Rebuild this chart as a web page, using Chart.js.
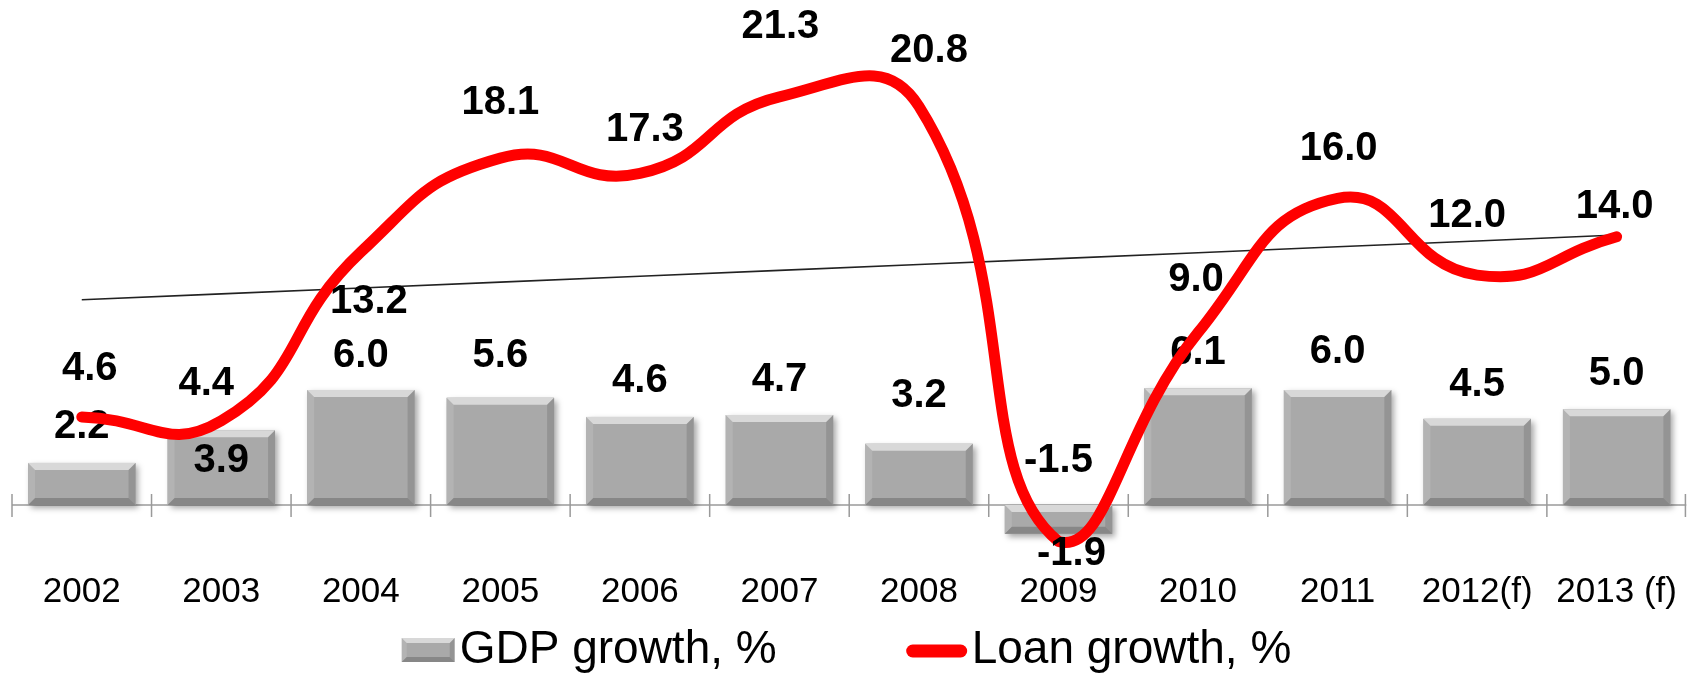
<!DOCTYPE html>
<html lang="en">
<head>
<meta charset="UTF-8">
<title>GDP growth vs loan growth</title>
<script src="https://cdn.jsdelivr.net/npm/chart.js"></script>
<style>
    html, body {
        margin: 0;
        padding: 0;
        background: #fff;
        overflow: hidden;
    }
</style>
</head>
<body>
<canvas id="growth-chart" width="1693" height="673"></canvas>
<script>
    const years = ['2002', '2003', '2004', '2005', '2006', '2007', '2008', '2009', '2010', '2011', '2012(f)', '2013 (f)'];
    const gdpGrowth = [2.2, 3.9, 6.0, 5.6, 4.6, 4.7, 3.2, -1.5, 6.1, 6.0, 4.5, 5.0];
    const loanGrowth = [4.6, 4.4, 13.2, 18.1, 17.3, 21.3, 20.8, -1.9, 9.0, 16.0, 12.0, 14.0];
    const seriesNames = ['GDP growth, %', 'Loan growth, %'];

    // label nudges (px): gdp labels from the bar end, loan labels from the point
    const gdpLabelDy = [-36, 31, -34, -42, -36, -35, -48, -44, -35, -38, -34, -35];
    const loanLabelShift = [[8, -48], [-15, -37], [8, 50], [0, -55], [5, -44], [1, -70],
                            [10, -55], [13, 12], [-2, -53], [1, -49], [-10, -59], [-2, -30]];

    const FONT = "'Liberation Sans', Arial, sans-serif";
    const BAR_GRAY = '#a9a9a9';

    // least squares trend of the loan series
    function linearTrend(values) {
        const n = values.length;
        const mx = (n - 1) / 2;
        const my = values.reduce((a, b) => a + b, 0) / n;
        let sxy = 0, sxx = 0;
        values.forEach((v, i) => { sxy += (i - mx) * (v - my); sxx += (i - mx) * (i - mx); });
        const slope = sxy / sxx;
        return values.map((v, i) => my + slope * (i - mx));
    }

    function bevel(ctx, l, t, r, b, e) {
        ctx.fillStyle = 'rgba(255,255,255,0.55)';
        ctx.beginPath();
        ctx.moveTo(l, t); ctx.lineTo(r, t); ctx.lineTo(r - e, t + e); ctx.lineTo(l + e, t + e);
        ctx.closePath(); ctx.fill();
        ctx.fillStyle = 'rgba(255,255,255,0.12)';
        ctx.beginPath();
        ctx.moveTo(l, t); ctx.lineTo(l + e, t + e); ctx.lineTo(l + e, b - e); ctx.lineTo(l, b);
        ctx.closePath(); ctx.fill();
        ctx.fillStyle = 'rgba(0,0,0,0.12)';
        ctx.beginPath();
        ctx.moveTo(r, t); ctx.lineTo(r, b); ctx.lineTo(r - e, b - e); ctx.lineTo(r - e, t + e);
        ctx.closePath(); ctx.fill();
        ctx.fillStyle = 'rgba(0,0,0,0.2)';
        ctx.beginPath();
        ctx.moveTo(l, b); ctx.lineTo(l + e, b - e); ctx.lineTo(r - e, b - e); ctx.lineTo(r, b);
        ctx.closePath(); ctx.fill();
    }

    // zero line with tick marks between the categories
    const zeroAxis = {
        id: 'zeroAxis',
        beforeDatasetsDraw(chart) {
            const { ctx, chartArea, scales } = chart;
            const y0 = scales.y.getPixelForValue(0);
            ctx.save();
            ctx.strokeStyle = '#9a9a9a';
            ctx.lineWidth = 1.5;
            ctx.beginPath();
            ctx.moveTo(chartArea.left, y0);
            ctx.lineTo(chartArea.right, y0);
            for (let i = 0; i <= years.length; i++) {
                let x;
                if (i === 0) x = chartArea.left;
                else if (i === years.length) x = chartArea.right - 1;
                else x = (scales.x.getPixelForValue(i - 1) + scales.x.getPixelForValue(i)) / 2;
                ctx.moveTo(x, y0 - 11);
                ctx.lineTo(x, y0 + 12);
            }
            ctx.stroke();
            ctx.restore();
        }
    };

    // shadow under the bars, bevel on top of them, then the gdp labels
    const barLook = {
        id: 'barLook',
        beforeDatasetDraw(chart, args) {
            if (args.index !== 0) return;
            const ctx = chart.ctx;
            ctx.save();
            ctx.shadowColor = 'rgba(0,0,0,0.35)';
            ctx.shadowBlur = 6;
            ctx.shadowOffsetX = 3;
            ctx.shadowOffsetY = 3;
            ctx.fillStyle = BAR_GRAY;
            args.meta.data.forEach(bar => {
                const top = Math.min(bar.y, bar.base);
                ctx.fillRect(bar.x - bar.width / 2, top, bar.width, Math.abs(bar.base - bar.y));
            });
            ctx.restore();
        },
        afterDatasetDraw(chart, args) {
            if (args.index !== 0) return;
            const ctx = chart.ctx;
            ctx.save();
            args.meta.data.forEach(bar => {
                const l = bar.x - bar.width / 2, r = bar.x + bar.width / 2;
                const t = Math.min(bar.y, bar.base), b = Math.max(bar.y, bar.base);
                bevel(ctx, l, t, r, b, Math.min(7, (b - t) / 2));
            });
            ctx.font = `bold 40px ${FONT}`;
            ctx.fillStyle = '#000';
            ctx.textAlign = 'center';
            ctx.textBaseline = 'middle';
            args.meta.data.forEach((bar, i) => {
                const top = Math.min(bar.y, bar.base);
                ctx.fillText(gdpGrowth[i].toFixed(1), bar.x, top + gdpLabelDy[i]);
            });
            ctx.restore();
        }
    };

    const loanLabels = {
        id: 'loanLabels',
        afterDatasetsDraw(chart) {
            const ctx = chart.ctx;
            ctx.save();
            ctx.font = `bold 40px ${FONT}`;
            ctx.fillStyle = '#000';
            ctx.textAlign = 'center';
            ctx.textBaseline = 'middle';
            chart.getDatasetMeta(1).data.forEach((pt, i) => {
                const [dx, dy] = loanLabelShift[i];
                ctx.fillText(loanGrowth[i].toFixed(1), pt.x + dx, pt.y + dy);
            });
            ctx.restore();
        }
    };

    // legend: bevelled box and thick red stroke, centred under the chart
    const bottomLegend = {
        id: 'bottomLegend',
        afterDraw(chart) {
            const ctx = chart.ctx;
            const cy = 650, baseline = 663;
            ctx.save();
            ctx.font = `46px ${FONT}`;
            ctx.textBaseline = 'alphabetic';
            ctx.textAlign = 'left';
            const w1 = ctx.measureText(seriesNames[0]).width;
            const w2 = ctx.measureText(seriesNames[1]).width;
            const boxW = 53, lineW = 60, gap = 5, between = 130;
            const total = boxW + gap + w1 + between + lineW + gap + w2;
            let x = (chart.width - total) / 2;

            ctx.fillStyle = BAR_GRAY;
            ctx.fillRect(x, cy - 12, boxW, 24);
            bevel(ctx, x, cy - 12, x + boxW, cy + 12, 5);
            x += boxW + gap;
            ctx.fillStyle = '#000';
            ctx.fillText(seriesNames[0], x, baseline);
            x += w1 + between;

            ctx.strokeStyle = '#ff0000';
            ctx.lineWidth = 13;
            ctx.lineCap = 'round';
            ctx.beginPath();
            ctx.moveTo(x + 6, cy + 1);
            ctx.lineTo(x + lineW - 6, cy + 1);
            ctx.stroke();
            x += lineW + gap;
            ctx.fillText(seriesNames[1], x, baseline);
            ctx.restore();
        }
    };

    const ctx = document.getElementById('growth-chart').getContext('2d');
    new Chart(ctx, {
        type: 'bar',
        data: {
            labels: years,
            datasets: [
                {
                    label: seriesNames[0],
                    data: gdpGrowth,
                    backgroundColor: BAR_GRAY,
                    borderWidth: 0,
                    barPercentage: 0.77,
                    categoryPercentage: 1,
                    order: 2
                },
                {
                    type: 'line',
                    label: seriesNames[1],
                    data: loanGrowth,
                    borderColor: '#ff0000',
                    borderWidth: 11,
                    borderCapStyle: 'round',
                    borderJoinStyle: 'round',
                    tension: 0.5,
                    pointRadius: 0,
                    pointHoverRadius: 0,
                    clip: false,
                    order: 0
                },
                {
                    type: 'line',
                    label: 'trend',
                    data: linearTrend(loanGrowth),
                    borderColor: '#222',
                    borderWidth: 1.6,
                    tension: 0,
                    pointRadius: 0,
                    pointHoverRadius: 0,
                    order: 1
                }
            ]
        },
        options: {
            responsive: false,
            animation: false,
            layout: { padding: { top: 10, left: 12, right: 1, bottom: 44 } },
            scales: {
                x: {
                    grid: { display: false, drawTicks: false },
                    border: { display: false },
                    ticks: {
                        color: '#000',
                        font: { family: FONT, size: 35 },
                        padding: 16,
                        maxRotation: 0,
                        autoSkip: false
                    }
                },
                y: {
                    display: false,
                    min: -2.604,
                    max: 25.83
                }
            },
            plugins: {
                legend: { display: false },
                tooltip: { enabled: false }
            }
        },
        plugins: [zeroAxis, barLook, loanLabels, bottomLegend]
    });
</script>
</body>
</html>
